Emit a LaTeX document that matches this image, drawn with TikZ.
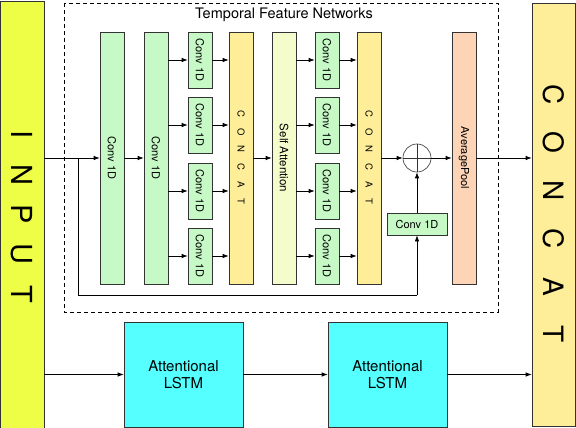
\documentclass[tikz,border=0pt]{standalone}
\usepackage{fontspec}
\usepackage{graphicx}
\setmainfont{TeX Gyre Heros}
\usetikzlibrary{arrows.meta,calc}
\definecolor{inyel}{HTML}{EEFD45}
\definecolor{cgreen}{HTML}{C6F9C6}
\definecolor{ccat}{HTML}{FEEE99}
\definecolor{csa}{HTML}{F4FCCC}
\definecolor{cap}{HTML}{FDD4B5}
\definecolor{clstm}{HTML}{55FFFF}
\definecolor{edge}{HTML}{333333}
\newcommand\Lbox[2]{\makebox[#1]{#2}}
\newcommand\rot[1]{\rotatebox{-90}{#1}}
\tikzset{
  blk/.style={draw=edge, line width=0.7pt, inner sep=0pt, rectangle},
  tall/.style={blk, minimum width=24pt, minimum height=252pt},
  small/.style={blk, fill=cgreen, minimum width=24pt, minimum height=56pt, font=\fontsize{11}{12}\selectfont},
  arr/.style={line width=0.7pt, -{Latex[length=6pt,width=4.5pt]}},
  ln/.style={line width=0.7pt},
}
\begin{document}
\begin{tikzpicture}[x=1pt,y=-1pt]
\useasboundingbox (0,0) rectangle (576,428);
% dashed frame
\draw[dashed, line width=0.8pt, dash pattern=on 4pt off 3pt] (64,3) rectangle (498,312);
\node[font=\fontsize{14.5}{16}\selectfont] (title) at (284,15) {Temporal Feature Networks};
% input and output
\node[blk, fill=inyel, minimum width=44pt, minimum height=427pt, font=\fontsize{29}{30}\selectfont] (inp) at (22,214.5)
  {\rot{\Lbox{39.75pt}{I}\Lbox{39.75pt}{N}\Lbox{39.75pt}{P}\Lbox{39.75pt}{U}\Lbox{39.75pt}{T}}};
\node[blk, fill=ccat, minimum width=43pt, minimum height=423pt, font=\fontsize{28}{30}\selectfont] (cc) at (553.5,214.5)
  {\rot{\Lbox{48pt}{C}\Lbox{48pt}{O}\Lbox{48pt}{N}\Lbox{48pt}{C}\Lbox{48pt}{A}\Lbox{48pt}{T}}};
% tall blocks
\node[tall, fill=cgreen, font=\fontsize{11}{12}\selectfont] (c1) at (112,158) {\rot{Conv 1D}};
\node[tall, fill=cgreen, font=\fontsize{11}{12}\selectfont] (c2) at (156,158) {\rot{Conv 1D}};
\node[tall, fill=ccat, font=\fontsize{9.5}{11}\selectfont] (cat1) at (241,158)
  {\rot{\Lbox{17.5pt}{C}\Lbox{17.5pt}{O}\Lbox{17.5pt}{N}\Lbox{17.5pt}{C}\Lbox{17.5pt}{A}\Lbox{17.5pt}{T}}};
\node[tall, fill=csa, font=\fontsize{11.5}{12}\selectfont] (sa) at (284,158) {\rot{Self Attention}};
\node[tall, fill=ccat, font=\fontsize{9.5}{11}\selectfont] (cat2) at (369,158)
  {\rot{\Lbox{17.5pt}{C}\Lbox{17.5pt}{O}\Lbox{17.5pt}{N}\Lbox{17.5pt}{C}\Lbox{17.5pt}{A}\Lbox{17.5pt}{T}}};
\node[tall, fill=cap, font=\fontsize{11}{12}\selectfont] (ap) at (464,158) {\rot{AveragePool}};
% small conv columns
\foreach \i/\yy in {1/60,2/125,3/191,4/256}{
  \node[small] (a\i) at (200,\yy) {\rot{Conv 1D}};
  \node[small] (b\i) at (327,\yy) {\rot{Conv 1D}};
}
% plus and side conv
\node[circle, draw=edge, line width=0.6pt, minimum size=28pt, inner sep=0pt] (pl) at (417,158) {};
\draw[line width=0.6pt, edge] (pl.north) -- (pl.south) (pl.west) -- (pl.east);
\node[blk, fill=cgreen, minimum width=60pt, minimum height=22pt, font=\fontsize{11}{12}\selectfont] (hc) at (417,224) {Conv 1D};
% LSTMs
\node[blk, fill=clstm, minimum width=119pt, minimum height=105pt, align=center, font=\fontsize{15}{17}\selectfont] (l1) at (183.5,374.5) {Attentional\\LSTM};
\node[blk, fill=clstm, minimum width=119pt, minimum height=105pt, align=center, font=\fontsize{15}{17}\selectfont] (l2) at (387.5,374.5) {Attentional\\LSTM};
% connectors
\coordinate (br) at (78,158);
\coordinate (bot) at (417,295);
\draw[arr] (inp.east |- c1.west) -- (c1.west);
\draw[ln] (br) |- (bot);
\draw[arr] (bot) -- (hc.south);
\draw[arr] (c1.east) -- (c2.west);
\foreach \i in {1,2,3,4}{
  \draw[arr] (c2.east |- a\i.west) -- (a\i.west);
  \draw[arr] (a\i.east) -- (cat1.west |- a\i.east);
  \draw[arr] (sa.east |- b\i.west) -- (b\i.west);
  \draw[arr] (b\i.east) -- (cat2.west |- b\i.east);
}
\draw[arr] (cat1.east) -- (sa.west);
\draw[arr] (cat2.east) -- (pl.west);
\draw[arr] (hc.north) -- (pl.south);
\draw[arr] (pl.east) -- (ap.west);
\draw[arr] (ap.east) -- (cc.west |- ap.east);
\draw[arr] (inp.east |- l1.west) -- (l1.west);
\draw[arr] (l1.east) -- (l2.west);
\draw[arr] (l2.east) -- (cc.west |- l2.east);
\end{tikzpicture}
\end{document}
